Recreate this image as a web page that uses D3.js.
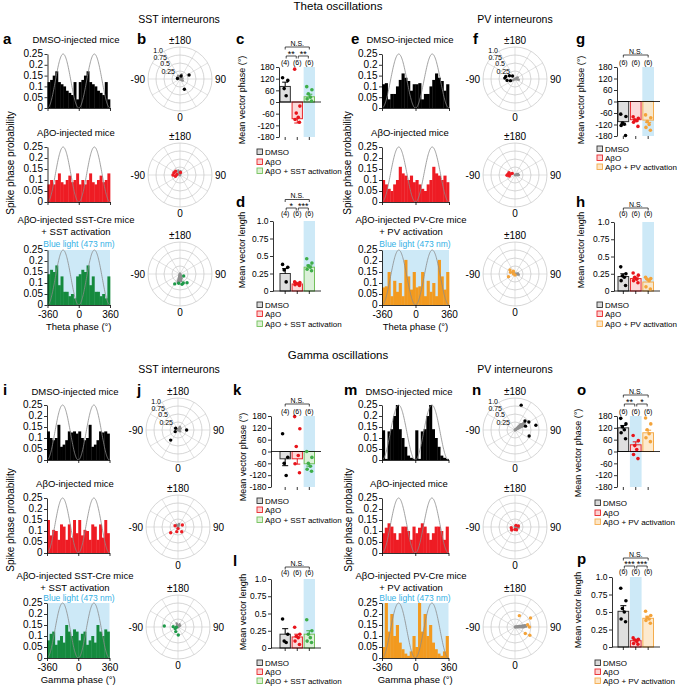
<!DOCTYPE html>
<html><head><meta charset="utf-8">
<script src="https://cdn.jsdelivr.net/npm/d3@7"></script>
<style>body{margin:0;background:#fff}</style>
</head><body><script>
// ---------------- DATA ----------------
// Spike-phase histograms: one cycle of 12 bins (30 deg each), shown twice (-360..360)
const binWidth = 30;
const thetaSstDmso = [0.12,0.13,0.15,0.17,0.12,0.11,0.1,0.08,0.07,0.06,0.12,0.04];
const thetaSstAbo  = [0.08,0.1,0.08,0.1,0.13,0.09,0.08,0.1,0.12,0.09,0.1,0.13];
const thetaSstAct  = [0.14,0.16,0.15,0.18,0.09,0.13,0.06,0.06,0.04,0.05,0.03,0.13];
const thetaPvDmso  = [0.11,0.115,0.04,0.065,0.065,0.1,0.13,0.16,0.14,0.125,0.08,0.11];
const thetaPvAbo   = [0.1,0.08,0.06,0.05,0.08,0.1,0.16,0.13,0.12,0.1,0.12,0.09];
const thetaPvAct   = [0.08,0.085,0.15,0.04,0.11,0.06,0.1,0.04,0.205,0.13,0.07,0.15];
const gammaSstDmso = [0.13,0.1,0.09,0.1,0.16,0.06,0.07,0.09,0.13,0.125,0.13,0.12];
const gammaSstAbo  = [0.15,0.08,0.105,0.1,0.06,0.13,0.12,0.06,0.13,0.07,0.15,0.09];
const gammaSstAct  = [0.08,0.11,0.12,0.06,0.08,0.1,0.07,0.15,0.12,0.1,0.13,0.12];
const gammaPvDmso  = [0.135,0.005,0.13,0.14,0.2,0.25,0.14,0.1,0.06,0.02,0.01,0.005];
const gammaPvAbo   = [0.09,0.115,0.135,0.12,0.09,0.06,0.09,0.12,0.12,0.1,0.06,0.12];
const gammaPvAct   = [0.05,0.25,0.12,0.2,0.1,0.15,0.07,0.04,0.02,0.01,0.03,0.1];
const histYTicks = [0,0.05,0.1,0.15,0.2,0.25];
const histYLabels = ["0","0.05","0.1","0.15","0.2","0.25"];
const histXTicks = [-360,0,360];

// Polar plots: individual mice [length, phase deg] and gray cell vectors
const polThetaSstDmso = [[0.31,114],[0.35,23],[0.08,-100],[0.1,160]];
const polThetaSstAbo  = [[0.2,-110],[0.22,-90],[0.15,-75],[0.1,-100],[0.18,-130],[0.08,170]];
const polThetaSstAct  = [[0.13,62],[0.29,-8],[0.35,-28],[0.33,11],[0.35,39],[0.3,20]];
const polThetaPvDmso  = [[0.3,-105],[0.25,-80],[0.15,-70],[0.2,-120],[0.12,-140],[0.32,-95]];
const polThetaPvAbo   = [[0.22,-95],[0.18,-80],[0.2,-110],[0.15,-100],[0.1,-120],[0.25,-88]];
const polThetaPvAct   = [[0.2,-129],[0.22,-68],[0.05,-100],[0.1,-150],[0.15,-110],[0.03,0]];
const polGammaSstDmso = [[0.09,-126],[0.27,90],[0.39,-36],[0.1,-60]];
const polGammaSstAbo  = [[0.15,115],[0.1,-113],[0.29,-52],[0.15,-15],[0.19,38],[0.05,0]];
const polGammaSstAct  = [[0.43,-94],[0.15,-94],[0.16,-26],[0.25,2],[0.1,-60],[0.05,-80]];
const polGammaPvDmso  = [[0.8,166],[0.42,132],[0.67,103],[0.48,67],[0.5,120],[0.35,110]];
const polGammaPvAbo   = [[0.14,-48],[0.11,107],[0.1,30],[0.08,0],[0.12,-80],[0.06,150]];
const polGammaPvAct   = [[0.38,159],[0.56,120],[0.38,58],[0.53,61],[0.45,90],[0.4,100]];
const cellThetaSstDmso = [[0.12,-150],[0.1,-120],[0.15,160],[0.08,100],[0.1,60]];
const cellThetaSstAbo  = [[0.15,-160],[0.12,170],[0.1,-120]];
const cellThetaSstAct  = [[0.2,-10],[0.28,-15],[0.22,10],[0.15,20],[0.25,-5]];
const cellThetaPvDmso  = [[0.1,120],[0.12,80],[0.08,-60]];
const cellThetaPvAbo   = [[0.1,110],[0.12,90]];
const cellThetaPvAct   = [[0.1,100],[0.12,80],[0.08,-120]];
const cellGammaSstDmso = [[0.1,120],[0.12,150],[0.08,60]];
const cellGammaSstAbo  = [[0.1,160],[0.08,-150]];
const cellGammaSstAct  = [[0.1,150],[0.12,-160],[0.08,120]];
const cellGammaPvDmso  = [[0.3,115],[0.33,120],[0.36,125],[0.38,128],[0.3,130],[0.25,135]];
const cellGammaPvAbo   = [[0.1,110],[0.12,80]];
const cellGammaPvAct   = [[0.3,95],[0.35,92],[0.32,100],[0.28,88]];
const polarRings = [0.25,0.5,0.75,1.0];
const polarRingLabels = ["0.25","0.5","0.75","1.0"];

// Bar charts (groups: DMSO, AβO, AβO + activation)
const thetaSstPhaseMean = [80,-86,27],   thetaSstPhaseSem = [22,22,13];
const thetaSstPhaseDots = [[125,111,69,32],[169,-21,-57,-79,-90,-104],[79,63,42,25,16,5]];
const thetaSstLenMean = [0.25,0.1,0.34], thetaSstLenSem = [0.07,0.01,0.03];
const thetaSstLenDots = [[0.38,0.34,0.3,0.13],[0.13,0.12,0.11,0.1,0.09,0.08],[0.46,0.4,0.36,0.34,0.31,0.29]];
const thetaPvPhaseMean = [-105,-95,-97], thetaPvPhaseSem = [17,7,12];
const thetaPvPhaseDots = [[-66,-78,-113,-118,-125,-177],[-80,-88,-95,-100,-108,-130],[-70,-85,-105,-120,-135,-150]];
const thetaPvLenMean = [0.21,0.18,0.13], thetaPvLenSem = [0.04,0.02,0.04];
const thetaPvLenDots = [[0.35,0.25,0.22,0.2,0.15,0.08],[0.26,0.23,0.2,0.17,0.15,0.12],[0.2,0.18,0.17,0.15,0.06,0.03]];
const gammaSstPhaseMean = [-37,-37,-62], gammaSstPhaseSem = [35,27,12];
const gammaSstPhaseDots = [[90,-29,-60,-122],[177,115,25,-20,-62,-108],[0,-30,-60,-75,-90,-100]];
const gammaSstLenMean = [0.2,0.16,0.2], gammaSstLenSem = [0.08,0.04,0.05];
const gammaSstLenDots = [[0.42,0.2,0.1,0.08],[0.3,0.2,0.17,0.15,0.1,0.05],[0.41,0.25,0.2,0.15,0.1,0.08]];
const gammaPvPhaseMean = [120,34,95], gammaPvPhaseSem = [12,15,13];
const gammaPvPhaseDots = [[168,140,125,110,95,65],[81,55,30,10,-15,-36],[170,140,110,90,70,50]];
const gammaPvLenMean = [0.51,0.09,0.41], gammaPvLenSem = [0.08,0.02,0.03];
const gammaPvLenDots = [[0.84,0.66,0.55,0.5,0.4,0.36],[0.13,0.11,0.1,0.08,0.05,0.04],[0.51,0.45,0.42,0.4,0.38,0.34]];
const phaseTicks = [180,120,60,0,-60,-120,-180];
const phaseTickLabels = ["180","120","60","0","-60","-120","-180"];
const lenTicks = [0,0.25,0.5,0.75,1.0];
const lenTickLabels = ["0","0.25","0.5","0.75","1.0"];
const nSst = ["(4)","(6)","(6)"], nPv = ["(6)","(6)","(6)"];
const legendSst = ["DMSO","AβO","AβO + SST activation"];
const legendPv = ["DMSO","AβO","AβO + PV activation"];
// significance: [from, to, label, level]
const sigThetaSstPhase = [[0,2,"N.S.",0],[0,1,"**",1],[1,2,"**",1]];
const sigThetaSstLen   = [[0,2,"N.S.",0],[0,1,"*",1],[1,2,"***",1]];
const sigThetaPvPhase  = [[0,2,"N.S.",0]];
const sigThetaPvLen    = [[0,2,"N.S.",0]];
const sigGammaSstPhase = [[0,2,"N.S.",0]];
const sigGammaSstLen   = [[0,2,"N.S.",0]];
const sigGammaPvPhase  = [[0,2,"N.S.",0],[0,1,"**",1],[1,2,"*",1]];
const sigGammaPvLen    = [[0,2,"N.S.",0],[0,1,"***",1],[1,2,"***",1]];

// ---------------- STYLE ----------------
const FONT = '"Liberation Sans", Arial, Helvetica, sans-serif';
const BLUE = "#cde9f7", BLUE_TXT = "#34b0e5";
const HIST = {black:"#000000", red:"#ee1c24", green:"#158a3e", orange:"#f29a1f"};
const FILL_SST = ["#d9d9d9","#fbd2d2","#ddf1d4"], STROKE_SST = ["#333333","#e8262b","#73c05b"], DOT_SST = ["#000","#e8141b","#3fae49"];
const FILL_PV  = ["#d9d9d9","#fbd2d2","#fde6c6"], STROKE_PV  = ["#333333","#e8262b","#f4ac4c"], DOT_PV  = ["#000","#e8141b","#f3a33a"];

const svg = d3.select("body").append("svg").attr("width",677).attr("height",686)
  .style("font-family",FONT).style("background","#fff");

function T(x,y,s,size,o={}) {
  const t = svg.append("text").attr("x",x).attr("y",y).attr("font-size",size)
    .attr("text-anchor",o.anchor||"middle").attr("fill",o.fill||"#000")
    .attr("font-weight",o.weight||"normal").style("font-family",FONT).text(s);
  if (o.rot) t.attr("transform",`rotate(-90,${x},${y})`).attr("dy","0.35em");
  return t;
}
function styleAxis(a, size) {
  a.attr("font-size",size).attr("font-family",FONT);
  a.selectAll("text").attr("fill","#000").style("font-family",FONT).attr("font-size",size);
  a.selectAll("line,path").attr("stroke","#000").attr("stroke-width",0.8);
}

// ---------------- HISTOGRAM ----------------
function hist(px0, px1, top, bot, cycle, color, blue, labels, xtitle) {
  const x = d3.scaleLinear().domain([-360,360]).range([px0,px1]);
  const y = d3.scaleLinear().domain([0,0.25]).range([bot,top]);
  const g = svg.append("g");
  if (blue) g.append("rect").attr("x",x(-360)).attr("y",y(0.25)).attr("width",x(360)-x(-360)).attr("height",y(0)-y(0.25)).attr("fill",BLUE);
  const vals = cycle.concat(cycle);
  g.selectAll("rect.bin").data(vals).join("rect").attr("class","bin")
    .attr("x",(d,i)=>x(-360+i*binWidth)).attr("width",x(binWidth)-x(0)+0.35)
    .attr("y",d=>y(d)).attr("height",d=>y(0)-y(d)).attr("fill",color);
  const sine = d3.range(-360,361,4).map(p=>[p,0.125*(1-Math.cos(p*Math.PI/180))]);
  g.append("path").attr("d",d3.line().x(d=>x(d[0])).y(d=>y(d[1]))(sine))
    .attr("fill","none").attr("stroke","#8a8a8a").attr("stroke-width",0.8);
  const ya = g.append("g").attr("transform",`translate(${px0},0)`)
    .call(d3.axisLeft(y).tickValues(histYTicks).tickFormat((d,i)=>histYLabels[i]).tickSize(3).tickSizeOuter(0).tickPadding(1.5));
  styleAxis(ya, 10);
  ya.selectAll(".tick text").attr("dy","0.28em");
  const xa = g.append("g").attr("transform",`translate(0,${bot})`)
    .call(d3.axisBottom(x).tickValues(histXTicks).tickFormat(d=>labels?String(d):"").tickSize(3).tickSizeOuter(0).tickPadding(3.2));
  styleAxis(xa, 10);
  if (xtitle) T((px0+px1)/2, bot+25, xtitle, 9.5);
}

// ---------------- POLAR ----------------
function polar(cx, cy, dots, cells, color, showR) {
  const R = 32;
  const rs = d3.scaleLinear().domain([0,1]).range([0,R]);
  const pt = (r,th)=>[cx+rs(r)*Math.sin(th*Math.PI/180), cy+rs(r)*Math.cos(th*Math.PI/180)];
  const g = svg.append("g");
  g.selectAll("line.sp").data(d3.range(0,360,30)).join("line")
    .attr("x1",cx).attr("y1",cy).attr("x2",d=>pt(1,d)[0]).attr("y2",d=>pt(1,d)[1])
    .attr("stroke","#cfcfcf").attr("stroke-width",0.6);
  g.selectAll("circle.ring").data(polarRings).join("circle")
    .attr("cx",cx).attr("cy",cy).attr("r",d=>rs(d)).attr("fill","none")
    .attr("stroke","#c4c4c4").attr("stroke-width",0.7);
  g.selectAll("line.cell").data(cells).join("line")
    .attr("x1",cx).attr("y1",cy).attr("x2",d=>pt(d[0],d[1])[0]).attr("y2",d=>pt(d[0],d[1])[1])
    .attr("stroke","#8f8f8f").attr("stroke-width",2.4).attr("stroke-linecap","round");
  g.selectAll("circle.dot").data(dots).join("circle")
    .attr("cx",d=>pt(d[0],d[1])[0]).attr("cy",d=>pt(d[0],d[1])[1]).attr("r",1.7).attr("fill",color);
  T(cx, cy-R-3, "±180", 10);
  T(cx, cy+R+10, "0", 10);
  T(cx-R-3, cy+3.5, "-90", 10, {anchor:"end"});
  T(cx+R+3, cy+3.5, "90", 10, {anchor:"start"});
  if (showR) {
    const offs = [[-5,-5.5],[-10,-13.5],[-13,-19.5],[-17,-26.5]];
    polarRingLabels.forEach((s,i)=>T(cx+offs[i][0], cy+offs[i][1], s, 7, {anchor:"end"}));
  }
}

// ---------------- BAR CHART ----------------
function barChart(c) {
  const band = d3.scaleBand().domain([0,1,2]).range(c.band).paddingInner(0.06).paddingOuter(0);
  const y = d3.scaleLinear().domain(c.domain).range(c.yRange);
  const g = svg.append("g");
  const bw = band.bandwidth();
  const top = c.yRange[1], bot = c.yRange[0];
  g.append("rect").attr("x",band(c.hl)).attr("y",top).attr("width",bw).attr("height",bot-top).attr("fill",BLUE);
  const zero = c.phase ? 0 : c.domain[0];
  c.means.forEach((m,i)=>{
    g.append("rect").attr("x",band(i)+0.5).attr("width",bw-1)
      .attr("y",Math.min(y(m),y(zero))).attr("height",Math.abs(y(m)-y(zero)))
      .attr("fill",c.fills[i]).attr("fill-opacity",0.85).attr("stroke",c.strokes[i]).attr("stroke-width",1);
  });
  g.append("line").attr("x1",c.axisX).attr("x2",c.band[1]+6).attr("y1",y(zero)).attr("y2",y(zero)).attr("stroke","#000").attr("stroke-width",0.8);
  [0,1,2].forEach(i=>{
    const xc = band(i)+bw/2;
    g.append("line").attr("x1",xc).attr("x2",xc).attr("y1",bot).attr("y2",bot+3).attr("stroke","#000").attr("stroke-width",0.8);
  });
  const jit = [-2.6,2.6,-1,1,-2.2,2.2];
  c.dots.forEach((arr,i)=>{
    const xc = band(i)+bw/2;
    arr.forEach((v,k)=>{
      g.append("circle").attr("cx",xc+jit[k%jit.length]).attr("cy",y(v)).attr("r",1.8).attr("fill",c.dotColors[i]);
    });
  });
  c.means.forEach((m,i)=>{
    const xc = band(i)+bw/2;
    const e = m>=zero ? m+c.sems[i] : m-c.sems[i];
    const col = c.dotColors[i];
    g.append("line").attr("x1",xc).attr("x2",xc).attr("y1",y(m)).attr("y2",y(e)).attr("stroke",col).attr("stroke-width",1);
    g.append("line").attr("x1",xc-3).attr("x2",xc+3).attr("y1",y(e)).attr("y2",y(e)).attr("stroke",col).attr("stroke-width",1);
  });
  const ya = g.append("g").attr("transform",`translate(${c.axisX},0)`)
    .call(d3.axisLeft(y).tickValues(c.ticks).tickFormat((d,i)=>c.tickLabels[i]).tickSize(3).tickSizeOuter(0).tickPadding(1.5));
  styleAxis(ya, 8.5);
  c.n.forEach((s,i)=>T(band(i)+bw/2, c.nY, s, 7));
  c.sig.forEach(([a,b,lab,lev])=>{
    const x1 = band(a)+bw/2+(lev?1:0), x2 = band(b)+bw/2-(lev?1:0);
    const ly = c.sigY[lev];
    g.append("path").attr("d",`M${x1},${ly+2.5}V${ly}H${x2}V${ly+2.5}`).attr("fill","none").attr("stroke","#000").attr("stroke-width",0.7);
    if (lab==="N.S.") T((x1+x2)/2, ly-1.5, lab, 7);
    else T((x1+x2)/2, ly+1.2, lab, 9);
  });
  T(c.titleX, c.titleY, c.title, 9, {rot:true});
  c.legend.forEach((s,i)=>{
    const ly = c.legY[i];
    g.append("rect").attr("x",c.legX).attr("y",ly-3).attr("width",5.5).attr("height",5.5)
      .attr("fill",c.fills[i]).attr("stroke",c.strokes[i]).attr("stroke-width",0.9);
    T(c.legX+8, ly+3, s, 8, {anchor:"start"});
  });
}

// ---------------- TITLES ----------------
T(338,9.5,"Theta oscillations",11.5);
T(179,23,"SST interneurons",10.5);
T(515,23,"PV interneurons",10.5);
T(338,359,"Gamma oscillations",11.5);
T(179,373,"SST interneurons",10.5);
T(515,373,"PV interneurons",10.5);
[["a",3,43.5],["b",137,43.5],["c",236,43.5],["d",236,207],["e",351,43.5],["f",473,43.5],["g",576,43.5],["h",576,207],
 ["i",3,395],["j",137,395],["k",233,395],["l",233,566],["m",344,395],["n",472,395],["o",577,395],["p",577,564]]
 .forEach(([s,x,y])=>T(x,y,s,15,{anchor:"start",weight:"bold"}));

// ---------------- THETA ----------------
T(76,43,"DMSO-injected mice",9.5); T(76,136,"AβO-injected mice",9.5);
T(76,222.5,"AβO-injected SST-Cre mice",9.5); T(76,234.5,"+ SST activation",9.5);
T(79,247,"Blue light (473 nm)",8.5,{fill:BLUE_TXT});
hist(47.5,110,54,108,thetaSstDmso,HIST.black,false,false);
hist(47.5,110,147,202,thetaSstAbo,HIST.red,false,false);
hist(47.5,110,250,305,thetaSstAct,HIST.green,true,true,"Theta phase (°)");
T(10,163,"Spike phase probability",10,{rot:true});

T(410,43,"DMSO-injected mice",9.5); T(410,136,"AβO-injected mice",9.5);
T(411,222.5,"AβO-injected PV-Cre mice",9.5); T(411,234.5,"+ PV activation",9.5);
T(415,247,"Blue light (473 nm)",8.5,{fill:BLUE_TXT});
hist(382,449,54,108,thetaPvDmso,HIST.black,false,false);
hist(382,449,147,202,thetaPvAbo,HIST.red,false,false);
hist(382,449,250,305,thetaPvAct,HIST.orange,true,true,"Theta phase (°)");
T(347,163,"Spike phase probability",10,{rot:true});

polar(180,79,polThetaSstDmso,cellThetaSstDmso,"#000",true);
polar(180,175,polThetaSstAbo,cellThetaSstAbo,HIST.red,false);
polar(180,274,polThetaSstAct,cellThetaSstAct,"#1f9a4a",false);
polar(515,79,polThetaPvDmso,cellThetaPvDmso,"#000",true);
polar(515,175,polThetaPvAbo,cellThetaPvAbo,HIST.red,false);
polar(515,274,polThetaPvAct,cellThetaPvAct,"#f3a33a",false);

barChart({phase:true,band:[279.5,315],axisX:279,domain:[-180,180],yRange:[137,67],ticks:phaseTicks,tickLabels:phaseTickLabels,hl:2,
  means:thetaSstPhaseMean,sems:thetaSstPhaseSem,dots:thetaSstPhaseDots,fills:FILL_SST,strokes:STROKE_SST,dotColors:DOT_SST,
  n:nSst,nY:64.5,sig:sigThetaSstPhase,sigY:[47,56],title:"Mean vector phase (°)",titleX:242,titleY:100,
  legend:legendSst,legX:257,legY:[152,162,171]});
barChart({phase:false,band:[279.5,315],axisX:273,domain:[0,1],yRange:[291,221],ticks:lenTicks,tickLabels:lenTickLabels,hl:2,
  means:thetaSstLenMean,sems:thetaSstLenSem,dots:thetaSstLenDots,fills:FILL_SST,strokes:STROKE_SST,dotColors:DOT_SST,
  n:nSst,nY:215.5,sig:sigThetaSstLen,sigY:[199.5,208],title:"Mean vector length",titleX:242,titleY:250,
  legend:legendSst,legX:257,legY:[305,314,324]});
barChart({phase:true,band:[617.5,654],axisX:617,domain:[-180,180],yRange:[136,67],ticks:phaseTicks,tickLabels:phaseTickLabels,hl:2,
  means:thetaPvPhaseMean,sems:thetaPvPhaseSem,dots:thetaPvPhaseDots,fills:FILL_PV,strokes:STROKE_PV,dotColors:DOT_PV,
  n:nPv,nY:64.5,sig:sigThetaPvPhase,sigY:[55],title:"Mean vector phase (°)",titleX:581,titleY:100,
  legend:legendPv,legX:597,legY:[149,158,167]});
barChart({phase:false,band:[617.5,654],axisX:614,domain:[0,1],yRange:[291,222],ticks:lenTicks,tickLabels:lenTickLabels,hl:2,
  means:thetaPvLenMean,sems:thetaPvLenSem,dots:thetaPvLenDots,fills:FILL_PV,strokes:STROKE_PV,dotColors:DOT_PV,
  n:nPv,nY:215.5,sig:sigThetaPvLen,sigY:[208],title:"Mean vector length",titleX:581,titleY:250,
  legend:legendPv,legX:597,legY:[305,314,324]});

// ---------------- GAMMA ----------------
T(75,395,"DMSO-injected mice",9.5); T(75,487,"AβO-injected mice",9.5);
T(75,578.5,"AβO-injected SST-Cre mice",9.5); T(75,590.5,"+ SST activation",9.5);
T(79,601,"Blue light (473 nm)",8.5,{fill:BLUE_TXT});
hist(47,109.5,405,460,gammaSstDmso,HIST.black,false,false);
hist(47,109.5,498,553,gammaSstAbo,HIST.red,false,false);
hist(47,109.5,603,658,gammaSstAct,HIST.green,true,true,"Gamma phase (°)");
T(10,520,"Spike phase probability",10,{rot:true});

T(409,395,"DMSO-injected mice",9.5); T(409,487,"AβO-injected mice",9.5);
T(411,578.5,"AβO-injected PV-Cre mice",9.5); T(411,590.5,"+ PV activation",9.5);
T(415,601,"Blue light (473 nm)",8.5,{fill:BLUE_TXT});
hist(382,448.5,405,460,gammaPvDmso,HIST.black,false,false);
hist(382,448.5,498,553,gammaPvAbo,HIST.red,false,false);
hist(382,448.5,603,658,gammaPvAct,HIST.orange,true,true,"Gamma phase (°)");
T(348,520,"Spike phase probability",10,{rot:true});

polar(178,430,polGammaSstDmso,cellGammaSstDmso,"#000",true);
polar(178,527,polGammaSstAbo,cellGammaSstAbo,HIST.red,false);
polar(178,627,polGammaSstAct,cellGammaSstAct,"#1f9a4a",false);
polar(515,430,polGammaPvDmso,cellGammaPvDmso,"#000",true);
polar(515,527,polGammaPvAbo,cellGammaPvAbo,HIST.red,false);
polar(515,627,polGammaPvAct,cellGammaPvAct,"#f3a33a",false);

barChart({phase:true,band:[279.5,315],axisX:271,domain:[-180,180],yRange:[487,416],ticks:phaseTicks,tickLabels:phaseTickLabels,hl:2,
  means:gammaSstPhaseMean,sems:gammaSstPhaseSem,dots:gammaSstPhaseDots,fills:FILL_SST,strokes:STROKE_SST,dotColors:DOT_SST,
  n:nSst,nY:414,sig:sigGammaSstPhase,sigY:[404],title:"Mean vector phase (°)",titleX:243,titleY:457,
  legend:legendSst,legX:257,legY:[501,510,520]});
barChart({phase:false,band:[279.5,315],axisX:271,domain:[0,1],yRange:[648,579],ticks:lenTicks,tickLabels:lenTickLabels,hl:2,
  means:gammaSstLenMean,sems:gammaSstLenSem,dots:gammaSstLenDots,fills:FILL_SST,strokes:STROKE_SST,dotColors:DOT_SST,
  n:nSst,nY:575,sig:sigGammaSstLen,sigY:[567],title:"Mean vector length",titleX:243,titleY:612,
  legend:legendSst,legX:257,legY:[663,672,681]});
barChart({phase:true,band:[617.5,654],axisX:617,domain:[-180,180],yRange:[487,416],ticks:phaseTicks,tickLabels:phaseTickLabels,hl:1,
  means:gammaPvPhaseMean,sems:gammaPvPhaseSem,dots:gammaPvPhaseDots,fills:FILL_PV,strokes:STROKE_PV,dotColors:DOT_PV,
  n:nPv,nY:414,sig:sigGammaPvPhase,sigY:[395,404],title:"Mean vector phase (°)",titleX:578,titleY:453,
  legend:legendPv,legX:595,legY:[503,513,522]});
barChart({phase:false,band:[617.5,654],axisX:612,domain:[0,1],yRange:[647,577],ticks:lenTicks,tickLabels:lenTickLabels,hl:1,
  means:gammaPvLenMean,sems:gammaPvLenSem,dots:gammaPvLenDots,fills:FILL_PV,strokes:STROKE_PV,dotColors:DOT_PV,
  n:nPv,nY:573.5,sig:sigGammaPvLen,sigY:[558,566],title:"Mean vector length",titleX:578,titleY:610,
  legend:legendPv,legX:595,legY:[663,672,681]});
</script></body></html>
